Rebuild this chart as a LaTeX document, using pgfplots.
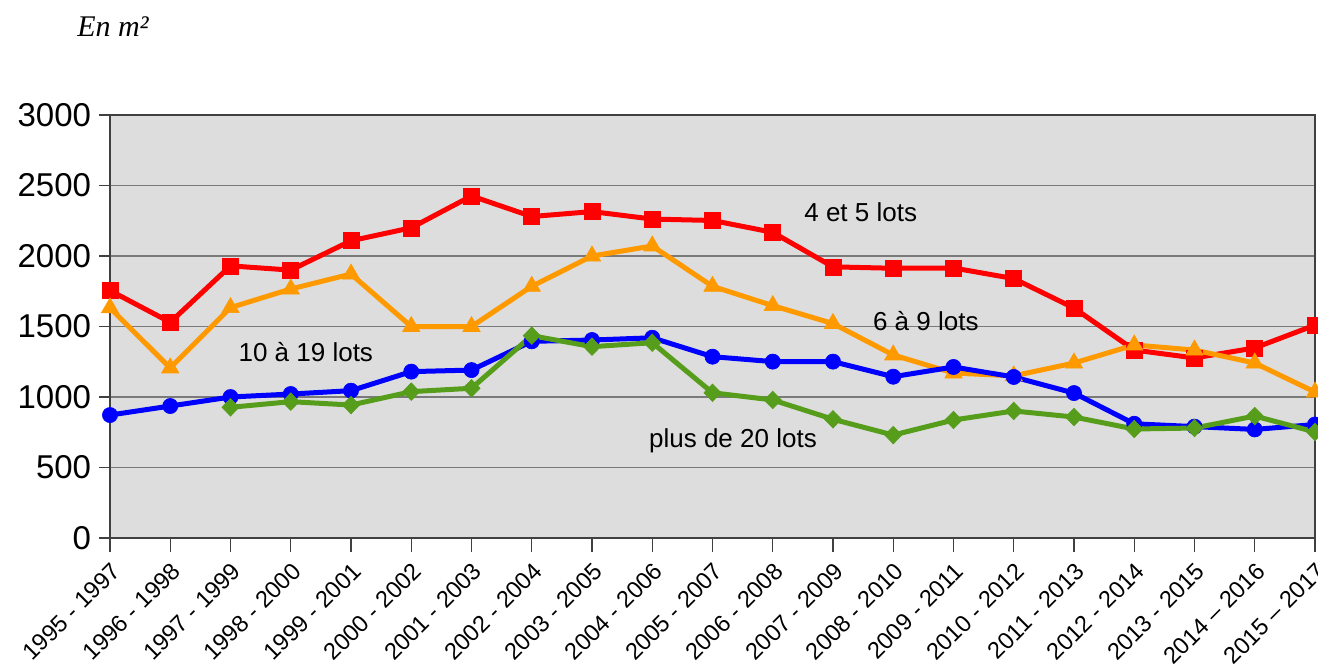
\documentclass[border=0pt]{standalone}
\usepackage{pgfplots}
\pgfplotsset{compat=1.18}
\usepackage{fontspec}
\setmainfont{Liberation Sans}
\newfontfamily\timesfont{Liberation Serif}
\definecolor{cred}{HTML}{FF0000}
\definecolor{corange}{HTML}{FF9900}
\definecolor{cblue}{HTML}{0000FF}
\definecolor{cgreen}{HTML}{579D1C}
\definecolor{bg}{HTML}{DDDDDD}
\definecolor{gridc}{HTML}{7A7A7A}
\begin{document}
\begin{tikzpicture}
\useasboundingbox (-55pt,-66pt) rectangle (604pt,269pt);
\begin{axis}[at={(0pt,0pt)}, anchor=south west, scale only axis,
  width=602.5pt, height=211.5pt,
  xmin=0, xmax=20, ymin=0, ymax=3000,
  axis background/.style={fill=bg},
  xtick={0,...,20},
  xticklabels={1995 - 1997,1996 - 1998,1997 - 1999,1998 - 2000,1999 - 2001,2000 - 2002,2001 - 2003,2002 - 2004,2003 - 2005,2004 - 2006,2005 - 2007,2006 - 2008,2007 - 2009,2008 - 2010,2009 - 2011,2010 - 2012,2011 - 2013,2012 - 2014,2013 - 2015,2014 – 2016,2015 – 2017},
  ytick={0,500,...,3000},
  ymajorgrids, grid style={gridc, line width=0.6pt},
  tick align=outside, tick pos=left,
  xtick style={/pgfplots/major tick length=7pt},
  ytick style={/pgfplots/major tick length=5.5pt},
  tick style={black!75, line width=0.6pt},
  axis line style={black!75, line width=0.8pt},
  yticklabel style={font=\fontsize{16.5}{18}\selectfont, inner sep=1pt, xshift=-4pt},
  xticklabel style={font=\fontsize{11.8}{14}\selectfont, rotate=45, anchor=north east, inner sep=0pt},
  xticklabel shift=7pt,
  /pgf/number format/1000 sep={}, /pgf/number format/assume math mode=true,
  clip=false,
  every axis plot/.append style={line width=2.5pt},
]
\addplot[cred, mark=square*, mark size=4pt, mark options={line width=0.3pt}] coordinates {
(0,1755) (1,1530) (2,1930) (3,1900) (4,2108) (5,2200) (6,2426) (7,2280) (8,2315) (9,2262) (10,2252) (11,2168) (12,1923) (13,1913) (14,1915) (15,1840) (16,1631) (17,1333) (18,1277) (19,1348) (20,1510)};
\addplot[corange, mark=triangle*, mark size=5pt, mark options={line width=0.3pt}] coordinates {
(0,1632) (1,1206) (2,1634) (3,1766) (4,1872) (5,1500) (6,1500) (7,1785) (8,2000) (9,2071) (10,1785) (11,1648) (12,1521) (13,1298) (14,1170) (15,1150) (16,1241) (17,1369) (18,1333) (19,1241) (20,1035)};
\addplot[cblue, mark=*, mark size=3.8pt, mark options={line width=0.3pt}] coordinates {
(0,872) (1,936) (2,1000) (3,1021) (4,1045) (5,1180) (6,1191) (7,1395) (8,1404) (9,1420) (10,1286) (11,1251) (12,1251) (13,1144) (14,1213) (15,1142) (16,1028) (17,810) (18,790) (19,770) (20,805)};
\addplot[cgreen, mark=diamond*, mark size=4.4pt, mark options={line width=0.3pt, xscale=1.3}] coordinates {
(2,927) (3,967) (4,943) (5,1038) (6,1062) (7,1435) (8,1357) (9,1385) (10,1030) (11,979) (12,842) (13,730) (14,837) (15,901) (16,858) (17,773) (18,780) (19,865) (20,752)};
\node[font=\fontsize{13}{15}\selectfont] at (axis cs:12.46,2312) {4 et 5 lots};
\node[font=\fontsize{13}{15}\selectfont] at (axis cs:13.54,1539) {6 à 9 lots};
\node[font=\fontsize{13}{15}\selectfont] at (axis cs:3.25,1319) {10 à 19 lots};
\node[font=\fontsize{13}{15}\selectfont] at (axis cs:10.34,688) {plus de 20 lots};
\end{axis}
\node[font=\timesfont\itshape\fontsize{15}{17}\selectfont] at (1.5pt,255.5pt) {En m²};
\end{tikzpicture}
\end{document}
